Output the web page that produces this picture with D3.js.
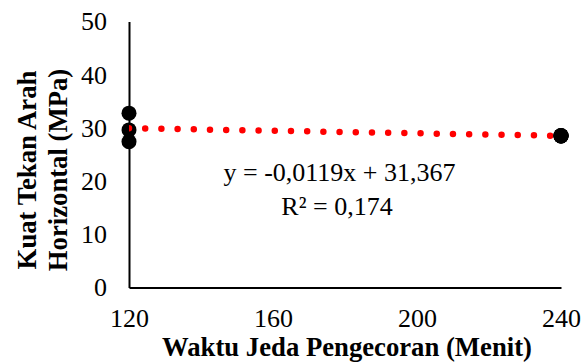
<!DOCTYPE html>
<html><head><meta charset="utf-8">
<script src="https://cdn.jsdelivr.net/npm/d3@7"></script>
<style>body{margin:0;background:#fff}svg{display:block}text{font-family:"Liberation Serif","Times New Roman",serif;fill:#000}.tick text{font-family:"Liberation Serif",serif !important;font-size:26px !important}</style>
</head><body>
<svg id="c" width="588" height="362"></svg>
<script>
const xValues = [120, 120, 120, 240, 240, 240];
const yValues = [32.77, 29.62, 27.42, 28.55, 28.50, 28.48];
const xTicks = [120, 160, 200, 240];
const yTicks = [0, 10, 20, 30, 40, 50];
const trendSlope = -0.0119;
const trendIntercept = 31.367;
const equationLines = ["y = -0,0119x + 31,367", "R² = 0,174"];
const xTitle = "Waktu Jeda Pengecoran (Menit)";
const yTitleLines = ["Kuat Tekan Arah", "Horizontal (MPa)"];

const svg = d3.select("#c");
const x = d3.scaleLinear().domain([120, 240]).range([129, 561]);
const y = d3.scaleLinear().domain([0, 50]).range([287.5, 21.5]);

svg.append("defs").append("clipPath").attr("id","pc").append("rect")
  .attr("x", x(120)).attr("y", y(50)).attr("width", x(240)-x(120)).attr("height", y(0)-y(50));

// axes
const xa = svg.append("g").attr("transform", `translate(0,${y(0)})`)
  .call(d3.axisBottom(x).tickValues(xTicks).tickSize(0).tickPadding(21).tickFormat(d3.format("d")));
const ya = svg.append("g").attr("transform", `translate(${x(120)},0)`)
  .call(d3.axisLeft(y).tickValues(yTicks).tickSize(0).tickPadding(22).tickFormat(d3.format("d")));
[xa, ya].forEach(g => {
  g.attr("font-family", null).attr("font-size", null);
  g.select(".domain").attr("stroke", "#000").attr("stroke-width", 2);
  g.selectAll("text").attr("fill", "#000");
});

// markers
svg.append("g").selectAll("circle").data(xValues.map((v,i)=>[v, yValues[i]])).join("circle")
  .attr("cx", d => x(d[0])).attr("cy", d => y(d[1])).attr("r", 7.5).attr("fill", "#000");

// trendline
const tl = [120, 240].map(v => [v, trendSlope * v + trendIntercept]);
svg.append("path").attr("clip-path", "url(#pc)")
  .attr("d", d3.line().x(d => x(d[0])).y(d => y(d[1]))(tl))
  .attr("stroke", "#ff0000").attr("stroke-width", 6.5).attr("stroke-linecap", "round")
  .attr("stroke-dasharray", "0 16.2").attr("fill", "none");
// right-end markers sit over the trendline end
svg.append("g").selectAll("circle").data(xValues.map((v,i)=>[v, yValues[i]]).filter(d => d[0] === 240)).join("circle")
  .attr("cx", d => x(d[0])).attr("cy", d => y(d[1])).attr("r", 7.5).attr("fill", "#000");

// equation
svg.append("text").attr("x", 339.5).attr("y", 181).attr("text-anchor", "middle")
  .style("font-size", "26px").text(equationLines[0]);
svg.append("text").attr("x", 337).attr("y", 215).attr("text-anchor", "middle")
  .style("font-size", "26px").text(equationLines[1]);

// titles
svg.append("text").attr("x", 347).attr("y", 356).attr("text-anchor", "middle")
  .style("font-size", "26.7px").style("font-weight", "bold").text(xTitle);
yTitleLines.forEach((t, i) => {
  svg.append("text").attr("transform", `translate(${36 + i*31},170) rotate(-90)`)
    .attr("text-anchor", "middle").style("font-size", "26.7px").style("font-weight", "bold").text(t);
});
</script>
</body></html>
